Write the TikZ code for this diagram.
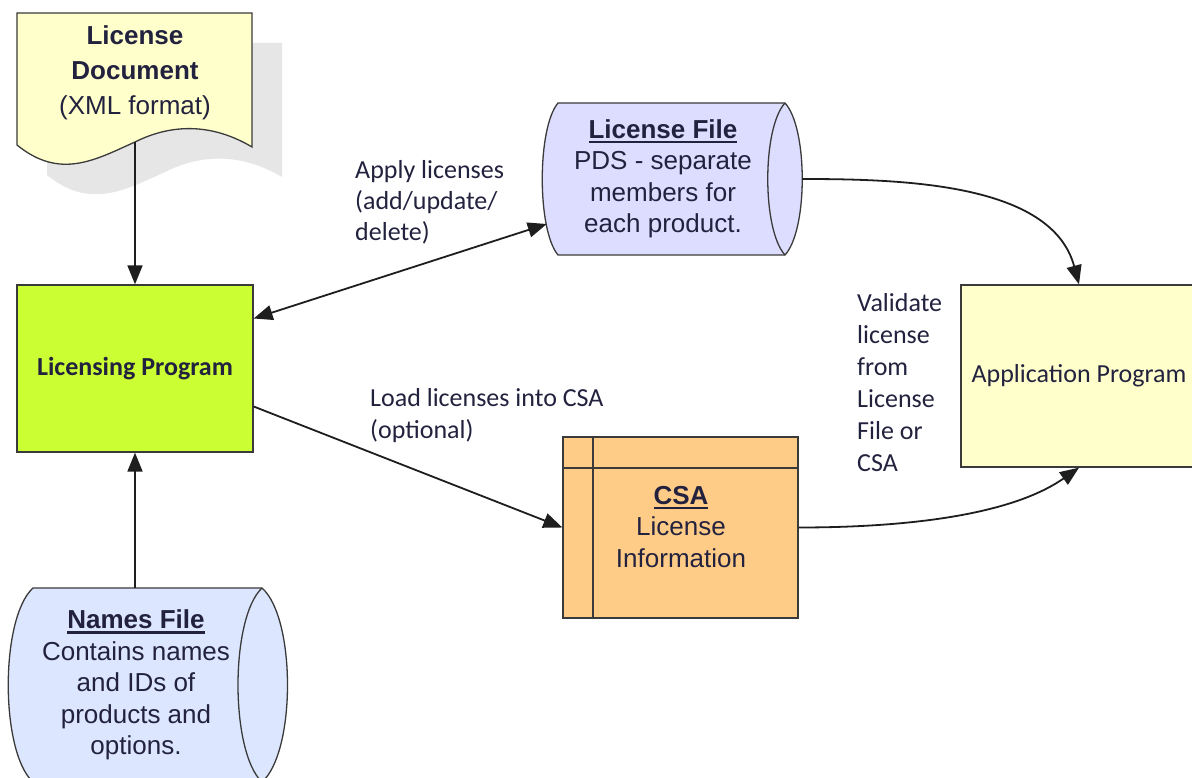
\documentclass[tikz,border=0pt]{standalone}
\usepackage{fontspec}
\setmainfont{Liberation Sans}
\newfontfamily\calfont{Carlito}
\usetikzlibrary{arrows.meta}
\definecolor{txt}{HTML}{22223F}
\definecolor{bordc}{HTML}{3A3A3A}
\definecolor{linec}{HTML}{1E1E1E}
\definecolor{docc}{HTML}{FFFFCC}
\definecolor{shadowc}{HTML}{E6E6E6}
\definecolor{lpc}{HTML}{CCFF33}
\definecolor{lfc}{HTML}{DDDDFF}
\definecolor{nfc}{HTML}{DCE6FF}
\definecolor{csac}{HTML}{FFCC88}
\definecolor{appc}{HTML}{FFFFCC}
\newlength\ulw
\newcommand\myul[1]{\settowidth\ulw{#1}\rlap{\rule[-5pt]{\ulw}{2.5pt}}#1}
\begin{document}
\begin{tikzpicture}[x=1pt,y=-1pt,
  outline/.style={draw=bordc, line width=1.3pt},
  boxnode/.style={outline, inner sep=0pt, text=txt},
  frame/.style={inner sep=0pt, draw=none},
  shapetext/.style={align=center, text=txt, inner sep=0pt, font=\fontsize{26}{31.5}\selectfont},
  lbl/.style={align=left, text=txt, inner sep=0pt, anchor=west, font=\calfont\fontsize{26}{32}\selectfont},
  conn/.style={draw=linec, line width=1.8pt, -{Triangle[length=19pt,width=15pt]}},
  biconn/.style={draw=linec, line width=1.8pt, {Triangle[length=19pt,width=15pt]}-{Triangle[length=19pt,width=15pt]}}
]
\clip (0,0) rectangle (1192,778);
\fill[white] (0,0) rectangle (1192,778);

% License Document (with shadow)
\fill[shadowc] (47,43) -- (282,43) -- (282,177) .. controls (245,155) and (205,152) .. (165,172) .. controls (125,190) and (90,210) .. (47,175) -- cycle;
\filldraw[outline, fill=docc] (17,13) -- (252,13) -- (252,147) .. controls (215,125) and (175,122) .. (135,142) .. controls (95,160) and (60,180) .. (17,145) -- cycle;
\coordinate (docbot) at (135,142);
\node[shapetext, font=\fontsize{26}{35}\selectfont] (doc) at (135,72.5) {\textbf{License}\\\textbf{Document}\\(XML format)};

% Licensing Program
\node[boxnode, fill=lpc, minimum width=236pt, minimum height=167pt, font=\calfont\bfseries\fontsize{26}{31}\selectfont] (lp) at (135,368.5) {Licensing Program};

% License File (stored data shape)
\filldraw[outline, fill=lfc] (558,103) -- (785,103) .. controls (808,128) and (808,230) .. (785,255) -- (558,255) .. controls (537,230) and (537,128) .. (558,103) -- cycle;
\draw[outline] (785,103) .. controls (762,128) and (762,230) .. (785,255);
\node[frame, minimum width=260pt, minimum height=152pt] (lf) at (672,179) {};
\node[shapetext] (lftext) at (663,179) {\textbf{\myul{License File}}\\PDS - separate\\members for\\each product.};

% Names File
\filldraw[outline, fill=nfc] (33,588) -- (262,588) .. controls (296,618) and (296,752) .. (262,782) -- (33,782) .. controls (0,752) and (0,618) .. (33,588) -- cycle;
\draw[outline] (262,588) .. controls (230,618) and (230,752) .. (262,782);
\node[frame, minimum width=280pt, minimum height=194pt] (nf) at (148,685) {};
\node[shapetext] (nftext) at (136,685) {\textbf{\myul{Names File}}\\Contains names\\and IDs of\\products and\\options.};

% CSA
\node[boxnode, fill=csac, minimum width=235pt, minimum height=181pt] (csa) at (680.5,527.5) {};
\draw[outline] (593,437) -- (593,618);
\draw[outline] (563,468) -- (798,468);
\node[shapetext] (csatext) at (681,527) {\textbf{\myul{CSA}}\\License\\Information};

% Application Program
\node[boxnode, fill=appc, minimum width=236pt, minimum height=182pt, font=\calfont\fontsize{26}{31}\selectfont] (app) at (1079,376) {Application Program};

% Labels
\node[lbl, font=\calfont\fontsize{26}{31}\selectfont] (l1) at (355,202) {Apply licenses\\(add/update/\\delete)};
\node[lbl] (l2) at (370,416) {Load licenses into CSA\\(optional)};
\node[lbl] (l3) at (857,383) {Validate\\license\\from\\License\\File or\\CSA};

% Connectors
\draw[conn] (docbot) -- (lp.north);
\draw[conn] (nf.north -| lp.south) -- (lp.south);
\draw[biconn] ([yshift=50pt]lp.east) -- ([xshift=5pt,yshift=-45pt]lf.west);
\draw[conn] ([yshift=-38pt]lp.east) -- (csa.west);
\draw[conn] (lf.east) to[out=0, in=105, looseness=0.9] (app.north);
\draw[conn] (csa.east) to[out=0, in=-145, looseness=0.8] (app.south);
\end{tikzpicture}
\end{document}
